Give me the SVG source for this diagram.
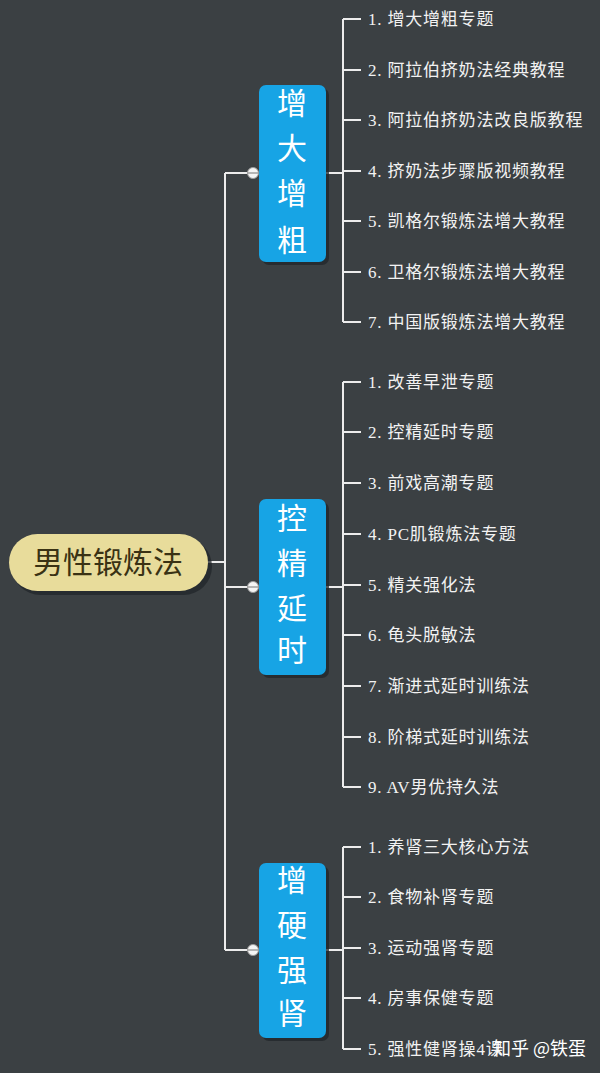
<svg xmlns="http://www.w3.org/2000/svg" width="600" height="1073" viewBox="0 0 600 1073">
<defs>
<style>
.bg{fill:#3b4043}
.ln{stroke:#ececec;stroke-width:2;fill:none}
.box{fill:#17a4e5}
.sh{fill:#222629;opacity:0.75}
.bt{font-family:"Liberation Serif","Noto Sans CJK SC",serif;font-size:30px;fill:#ffffff;text-anchor:middle}
.it{font-family:"Liberation Serif","Noto Sans CJK SC",serif;font-size:17px;fill:#f2f2f2;letter-spacing:0.8px}
.rt{font-family:"Liberation Serif","Noto Sans CJK SC",serif;font-size:30px;fill:#3a3214;text-anchor:middle}
.btn{fill:#f4f4f4;stroke:#9a9a9a;stroke-width:1}
.wm{font-family:"Noto Sans CJK SC","Liberation Sans",sans-serif;font-size:18px;fill:#ffffff}
</style>
</defs>
<rect class="bg" x="0" y="0" width="600" height="1073"/>
<g id="connectors">
<path class="ln" d="M208 562H225M225 173V950M225 173H253M225 587H253M225 950H253"/>
<path class="ln" d="M326 173H343M343 19V322M343 19H361M343 70H361M343 120H361M343 171H361M343 221H361M343 272H361M343 322H361"/>
<path class="ln" d="M326 587H343M343 382V787M343 382H361M343 432H361M343 483H361M343 534H361M343 585H361M343 635H361M343 686H361M343 737H361M343 787H361"/>
<path class="ln" d="M326 950H343M343 847V1049M343 847H361M343 897H361M343 948H361M343 998H361M343 1049H361"/>
<g>
<circle class="btn" cx="253" cy="173" r="5.5"/><path d="M248 173H258" stroke="#8a8a8a" stroke-width="1.2"/>
<circle class="btn" cx="253" cy="587" r="5.5"/><path d="M248 587H258" stroke="#8a8a8a" stroke-width="1.2"/>
<circle class="btn" cx="253" cy="950" r="5.5"/><path d="M248 950H258" stroke="#8a8a8a" stroke-width="1.2"/>
</g>
</g>
<g id="root">
<rect class="sh" x="12" y="538" width="200" height="57" rx="28.5"/>
<rect x="9" y="534" width="199" height="57" rx="28.5" fill="#e8dc9b"/>
<text class="rt" x="108" y="573">男性锻炼法</text>
</g>
<g id="b1">
<rect class="sh" x="262" y="88" width="67" height="177" rx="7"/>
<rect class="box" x="259" y="85" width="67" height="177" rx="7"/>
<text class="bt" x="292" y="114">增</text>
<text class="bt" x="292" y="159">大</text>
<text class="bt" x="292" y="204">增</text>
<text class="bt" x="292" y="251">粗</text>
</g>
<g id="b2">
<rect class="sh" x="262" y="502" width="67" height="176" rx="7"/>
<rect class="box" x="259" y="499" width="67" height="176" rx="7"/>
<text class="bt" x="292" y="529">控</text>
<text class="bt" x="292" y="574">精</text>
<text class="bt" x="292" y="619">延</text>
<text class="bt" x="292" y="661">时</text>
</g>
<g id="b3">
<rect class="sh" x="262" y="866" width="67" height="175" rx="7"/>
<rect class="box" x="259" y="863" width="67" height="175" rx="7"/>
<text class="bt" x="292" y="891">增</text>
<text class="bt" x="292" y="936">硬</text>
<text class="bt" x="292" y="981">强</text>
<text class="bt" x="292" y="1024">肾</text>
</g>
<g id="leaves1">
<text class="it" x="368" y="25">1. 增大增粗专题</text>
<text class="it" x="368" y="76">2. 阿拉伯挤奶法经典教程</text>
<text class="it" x="368" y="126">3. 阿拉伯挤奶法改良版教程</text>
<text class="it" x="368" y="177">4. 挤奶法步骤版视频教程</text>
<text class="it" x="368" y="227">5. 凯格尔锻炼法增大教程</text>
<text class="it" x="368" y="278">6. 卫格尔锻炼法增大教程</text>
<text class="it" x="368" y="328">7. 中国版锻炼法增大教程</text>
</g>
<g id="leaves2">
<text class="it" x="368" y="388">1. 改善早泄专题</text>
<text class="it" x="368" y="438">2. 控精延时专题</text>
<text class="it" x="368" y="489">3. 前戏高潮专题</text>
<text class="it" x="368" y="540">4. PC肌锻炼法专题</text>
<text class="it" x="368" y="591">5. 精关强化法</text>
<text class="it" x="368" y="641">6. 龟头脱敏法</text>
<text class="it" x="368" y="692">7. 渐进式延时训练法</text>
<text class="it" x="368" y="743">8. 阶梯式延时训练法</text>
<text class="it" x="368" y="793">9. AV男优持久法</text>
</g>
<g id="leaves3">
<text class="it" x="368" y="853">1. 养肾三大核心方法</text>
<text class="it" x="368" y="903">2. 食物补肾专题</text>
<text class="it" x="368" y="954">3. 运动强肾专题</text>
<text class="it" x="368" y="1004">4. 房事保健专题</text>
<text class="it" x="368" y="1055">5. 强性健肾操4课</text>
</g>
<text class="wm" x="493" y="1055">知乎 @铁蛋</text>
</svg>
